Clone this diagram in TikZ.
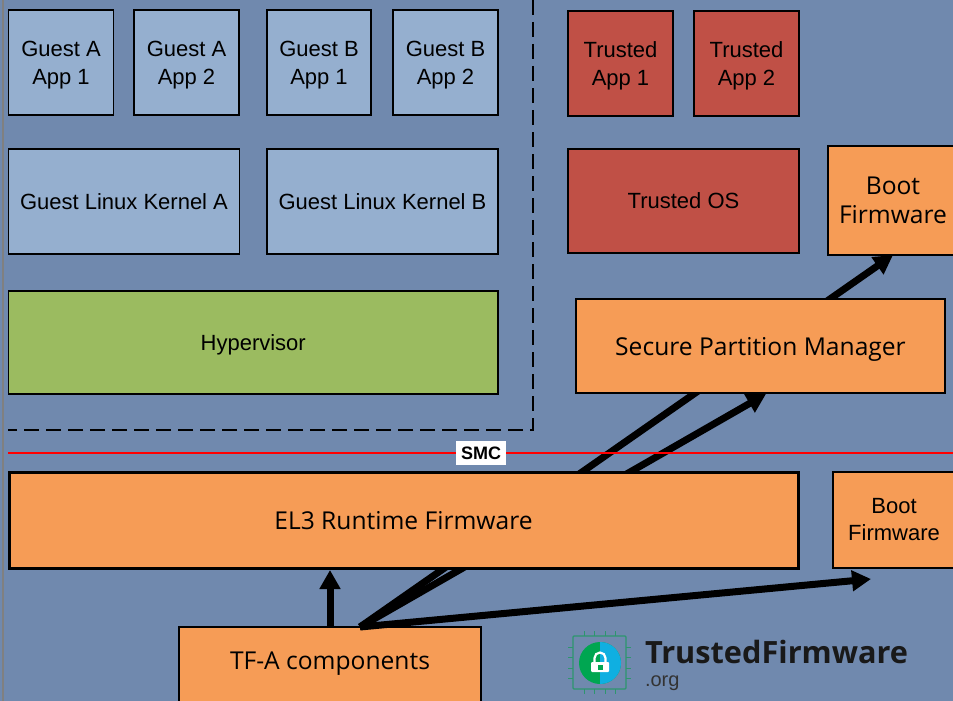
\documentclass[tikz,border=0pt]{standalone}
\usepackage{fontspec}
\setmainfont{Liberation Sans}
\newfontfamily\fwfont{Open Sans}
\usepackage{xcolor}
\usetikzlibrary{arrows.meta,positioning}
\definecolor{panel}{RGB}{112,137,174}
\definecolor{guest}{RGB}{149,175,207}
\definecolor{trusted}{RGB}{192,80,70}
\definecolor{hyper}{RGB}{155,187,96}
\definecolor{firmware}{RGB}{246,156,86}
\definecolor{logogreen}{RGB}{0,166,81}
\definecolor{logoblue}{RGB}{15,175,225}
\definecolor{logoline}{RGB}{45,150,110}
\newcommand{\topgap}{\rule{0pt}{20pt}}
\pgfdeclarelayer{bottom}
\pgfdeclarelayer{wires}
\pgfsetlayers{bottom,wires,main}

\begin{document}
\begin{tikzpicture}[
  x=1pt, y=-1pt,
  every node/.style={inner sep=0pt, outer sep=0pt, align=center},
  box/.style={draw=black, line width=1.3pt, anchor=north west,
    font=\fontsize{22}{28}\selectfont},
  lowered/.style={execute at begin node={\rule{0pt}{#1}}},
  guest/.style={box, fill=guest, minimum width=105pt, minimum height=105pt},
  kernel/.style={guest, minimum width=231pt},
  trusted/.style={box, fill=trusted, minimum width=105pt, minimum height=105pt},
  fw/.style={box, fill=firmware, line width=1.6pt},
  fwtext/.style={fw, font=\fontsize{24.6}{29}\selectfont\fwfont},
  arrow/.style={-{Triangle[length=19pt, width=20pt]}, line width=7pt}
]
\useasboundingbox (0,0) rectangle (953,701);

\begin{pgfonlayer}{bottom}
\fill[panel] (0,0) rectangle (953,701);
\draw[gray, line width=2pt] (3,0) -- (3,701);
\node[fw, minimum width=302pt, minimum height=90pt] (tfa) at (179,627) {};
\node[font=\fontsize{24.6}{29}\selectfont\fwfont] (tfalabel) at (330,664) {TF-A components};
\end{pgfonlayer}

% normal world
\node[guest] (gapp1) at (8.5,10) {\topgap Guest A\\App 1};
\node[guest, right=20.5pt of gapp1] (gapp2) {\topgap Guest A\\App 2};
\node[guest, right=28pt of gapp2, minimum width=104pt] (gapp3) {\topgap Guest B\\App 1};
\node[guest, right=22pt of gapp3] (gapp4) {\topgap Guest B\\App 2};
\node[kernel, below=34pt of gapp1.south west, anchor=north west] (kernela) {Guest Linux Kernel A};
\node[kernel, right=27.5pt of kernela] (kernelb) {Guest Linux Kernel B};
\node[box, fill=hyper, minimum width=489.5pt, minimum height=103pt, lowered=20pt,
  below=37pt of kernela.south west, anchor=north west] (hyper) {Hypervisor};
\coordinate (dashtop) at (533,0);
\coordinate (dashcorner) at (533,430);
\coordinate (dashend) at (8,430);
\draw[dashed, dash pattern=on 15pt off 7pt, line width=1.2pt] (dashtop) -- (dashcorner) -- (dashend);

% secure world
\node[trusted] (tapp1) at (568,11) {\topgap Trusted\\App 1};
\node[trusted, right=21pt of tapp1] (tapp2) {\topgap Trusted\\App 2};
\node[trusted, minimum width=231pt, minimum height=104pt] (tos) at (568,149) {Trusted OS};
\node[fwtext, minimum width=130pt, minimum height=109pt] (bootupper) at (828,146) {Boot\\Firmware};
\node[fwtext, minimum width=369pt, minimum height=94pt, lowered=24pt] (spm) at (576,299) {Secure Partition Manager};

% smc line
\coordinate (smcleft) at (8,453);
\coordinate (smcright) at (953,453);
\draw[red, line width=1.8pt] (smcleft) -- (smcright);
\node[fill=white, minimum width=50pt, minimum height=24pt,
  font=\fontsize{18}{20}\selectfont\bfseries] (smc) at (481,453) {SMC};

% el3
\node[fwtext, line width=3pt, minimum width=789pt, minimum height=96pt, lowered=20pt] (el3) at (9,472) {EL3 Runtime Firmware};
\node[box, fill=firmware, minimum width=122pt, minimum height=96pt,
  font=\fontsize{22}{27}\selectfont] (bootlower) at (833,472) {Boot\\Firmware};

% logo
\coordinate (logo) at (600,663);
\draw[logoline, line width=1.2pt, rounded corners=1pt] (573,636) rectangle (626,689);
\foreach \p in {0,1,2,3} {
  \draw[logoline, line width=0.9pt] (584+10.5*\p,631) -- (584+10.5*\p,636);
  \draw[logoline, line width=0.9pt] (584+10.5*\p,689) -- (584+10.5*\p,694);
  \draw[logoline, line width=0.9pt] (568,647+10.5*\p) -- (573,647+10.5*\p);
  \draw[logoline, line width=0.9pt] (626,647+10.5*\p) -- (631,647+10.5*\p);
}
\fill[logogreen] (logo) circle[radius=21pt];
\begin{scope}
\clip (600,640) rectangle (625,686);
\fill[logoblue] (logo) circle[radius=21pt];
\end{scope}
\draw[white, line width=2.2pt] (594.5,662) -- (594.5,658) arc[start angle=180, end angle=0, radius=5.5pt] -- (605.5,662);
\fill[white, rounded corners=1pt] (591,662) rectangle (609,672);
\fill[logogreen] (597.5,665) rectangle (602.5,670);
\node[anchor=west, font=\fontsize{30.7}{32}\selectfont\bfseries\fwfont, text=black!90] (logoname) at (645,652) {TrustedFirmware};
\node[anchor=west, font=\fontsize{20}{20}\selectfont, text=black!80] (logoorg) at (645,683) {.org};

% connectors from TF-A
\coordinate (origin) at (360,627);
\coordinate (el3in) at (330,570);
\coordinate (spmin) at (766,394);
\coordinate (bootlowerin) at (871,579);
\begin{pgfonlayer}{wires}
\draw[arrow] (tfa.north -| el3in) -- (el3in);
\draw[arrow] (origin) -- (bootupper.south);
\draw[arrow] (origin) -- (spmin);
\draw[arrow] (origin) -- (bootlowerin);
\end{pgfonlayer}
\end{tikzpicture}
\end{document}
